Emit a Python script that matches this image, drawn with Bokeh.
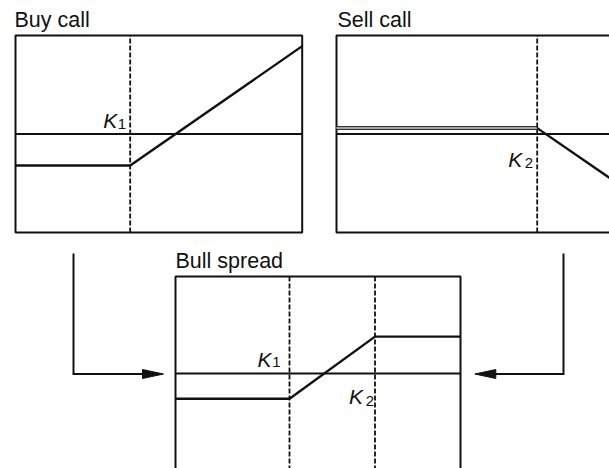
from bokeh.plotting import figure
from bokeh.models import Range1d
from bokeh.core.properties import value
from bokeh.embed import file_html
from bokeh.resources import INLINE

# ---------------- data ----------------
S_MIN, S_MAX = 0, 100          # stock-price axis of every panel
V_MIN, V_MAX = -50, 50         # payoff axis of every panel
K1, K2 = 40, 70                # strike prices

buy_S = [0, 40, 100]
buy_payoff = [-16, -16, 44.6]

sell_S = [0, 70, 100]
sell_payoff = [3, 3, -27]

bull_S = [0, 40, 70, 100]
bull_payoff = [-13, -13, 19, 19]

titles = ["Buy call", "Sell call", "Bull spread"]

# ---------------- layout (page pixels) ----------------
W, H = 609, 468
PX0, PY0 = 0, 0
FONT = value("Liberation Sans")
INK = "#111111"
TY = -8   # vertical correction for text placement

# panel boxes: left, right, top, bottom (page px)
boxes = {
    "buy": (15, 301.7, 35, 232),
    "sell": (336, 622.7, 35, 232),
    "bull": (175, 460, 276, 470),
}

p = figure(width=W, height=H,
           x_range=Range1d(PX0, PX0 + W), y_range=Range1d(PY0 + H, PY0),
           output_backend="svg", toolbar_location=None,
           x_axis_type=None, y_axis_type=None, min_border=0,
           outline_line_color=None, background_fill_color="white",
           border_fill_color="white")
p.xgrid.visible = False
p.ygrid.visible = False

xr, yr = {}, {}
for name, (l, r, t, b) in boxes.items():
    sx = (S_MAX - S_MIN) / (r - l)
    sy = (V_MAX - V_MIN) / (b - t)
    xr[name] = Range1d(start=S_MIN + (PX0 - l) * sx, end=S_MIN + (PX0 + W - l) * sx)
    yr[name] = Range1d(start=V_MAX - (PY0 + H - t) * sy, end=V_MAX - (PY0 - t) * sy)
p.extra_x_ranges = xr
p.extra_y_ranges = yr

panel_defs = [
    ("buy", titles[0], [K1], buy_S, buy_payoff, -1),
    ("sell", titles[1], [K2], sell_S, sell_payoff, 1),
    ("bull", titles[2], [K1, K2], bull_S, bull_payoff, 0),
]

for name, title, strikes, S, pay, tx in panel_defs:
    kw = dict(x_range_name=name, y_range_name=name)
    p.quad(left=[S_MIN], right=[S_MAX], bottom=[V_MIN], top=[V_MAX],
           fill_color=None, line_color=INK, line_width=2, **kw)
    p.line([S_MIN, S_MAX], [0, 0], line_color=INK, line_width=2, **kw)
    p.line(S, pay, line_color=INK, line_width=2.4, line_join="miter", **kw)
    if name == "sell":
        # the flat part of the sell-call line is drawn as a hollow double line
        p.line(S[:2], pay[:2], line_color="#333333", line_width=4, **kw)
        p.line(S[:2], pay[:2], line_color="#c8c8c8", line_width=1.5, **kw)
    p.segment(x0=strikes, y0=[V_MIN] * len(strikes), x1=strikes, y1=[V_MAX] * len(strikes),
              line_color=INK, line_width=1.8, line_dash="5 2", **kw)
    p.text(x=[S_MIN], y=[V_MAX], text=[title], text_font=FONT, text_font_size="21.5px",
           text_color=INK, text_align="left", text_baseline="alphabetic",
           x_offset=tx, y_offset=-8 + TY, **kw)

# strike labels: (panel, strike, subscript, K offset x/y, sub offset x/y)
labels = [
    ("buy", K1, "1", -27, -6, -4, -2),
    ("sell", K2, "2", -29, 33, -4, 36.5),
    ("bull", K1, "1", -32, -6.5, -9, -3.5),
    ("bull", K2, "2", -26, 31, -1, 35),
]
for name, k, sub, kx, ky, sx_, sy_ in labels:
    kw = dict(x_range_name=name, y_range_name=name)
    p.text(x=[k], y=[0], text=["K"], text_font=FONT, text_font_size="21px",
           text_font_style="italic", text_color=INK,
           text_align="left", text_baseline="alphabetic", x_offset=kx, y_offset=ky + TY, **kw)
    p.text(x=[k], y=[0], text=[sub], text_font=FONT, text_font_size="15px",
           text_color=INK, text_align="right", text_baseline="alphabetic",
           x_offset=sx_, y_offset=sy_ + TY, **kw)

# connecting arrows (layout, page px)
AY = 373.5
p.line([73, 73, 150], [253, AY, AY], line_color=INK, line_width=2, line_join="miter")
p.patch([163, 142, 142], [AY, AY - 4.5, AY + 4.5], fill_color=INK, line_color=INK, line_width=1)
p.line([563, 563, 486], [253, AY, AY], line_color=INK, line_width=2, line_join="miter")
p.patch([474.3, 495.3, 495.3], [AY, AY - 4.5, AY + 4.5], fill_color=INK, line_color=INK, line_width=1)

open("out.html", "w").write(file_html(p, INLINE))
